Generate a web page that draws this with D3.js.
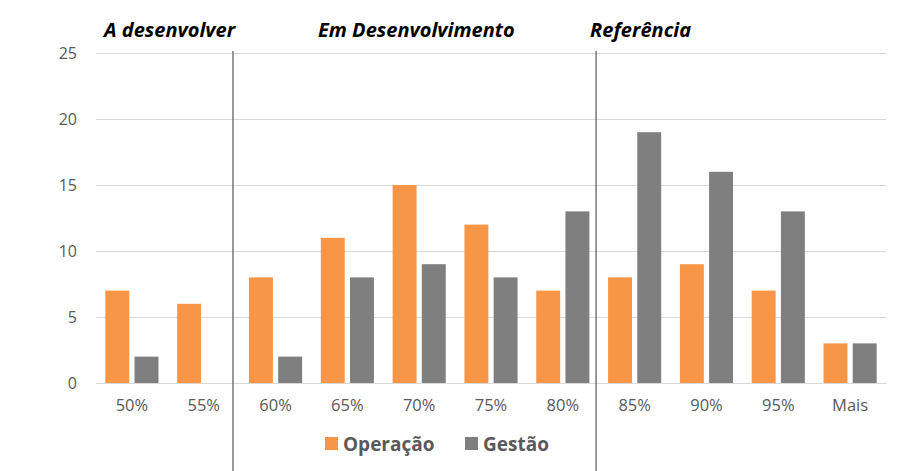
<!DOCTYPE html>
<html><head><meta charset="utf-8">
<script src="https://cdn.jsdelivr.net/npm/d3@7"></script>
<style>body{margin:0;background:#fff}</style>
</head><body>
<script>
const categories = ["50%","55%","60%","65%","70%","75%","80%","85%","90%","95%","Mais"];
const operacao = [7,6,8,11,15,12,7,8,9,7,3];
const gestao = [2,0,2,8,9,8,13,19,16,13,3];
const seriesNames = ["Operação","Gestão"];
const seriesColors = ["#F79646","#7F7F7F"];
const yTicks = [0,5,10,15,20,25];
const regions = [
  {label:"A desenvolver", start:"50%"},
  {label:"Em Desenvolvimento", start:"60%"},
  {label:"Referência", start:"85%"}
];

const W=912,H=471;
const m={l:96,r:26,t:53,b:88};
const svg=d3.select("body").append("svg").attr("width",W).attr("height",H);
const font="Open Sans, Liberation Sans, sans-serif";

const x=d3.scaleBand().domain(categories).range([m.l,W-m.r]).paddingInner(0.26).paddingOuter(0.13);
const xs=d3.scaleBand().domain(seriesNames).range([0,x.bandwidth()]).paddingInner(0.18);
const y=d3.scaleLinear().domain([0,25]).range([H-m.b,m.t]);

// gridlines
const yAxis=d3.axisLeft(y).tickValues(yTicks).tickSize(-(W-m.l-m.r)).tickPadding(19);
const ga=svg.append("g").attr("transform",`translate(${m.l},0)`).call(yAxis);
ga.select(".domain").remove();
ga.selectAll(".tick line").attr("stroke","#D9D9D9").attr("stroke-width",1);
ga.selectAll(".tick text").attr("fill","#595959").style("font-family",font).style("font-size","16px");

// bars
const data=[operacao,gestao];
data.forEach((vals,si)=>{
  svg.append("g").selectAll("rect").data(vals.map((v,i)=>({c:categories[i],v}))).join("rect")
    .filter(d=>d.v>0)
    .attr("x",d=>x(d.c)+xs(seriesNames[si]))
    .attr("width",xs.bandwidth())
    .attr("y",d=>y(d.v))
    .attr("height",d=>y(0)-y(d.v))
    .attr("fill",seriesColors[si]);
});

// x axis labels
const xAxis=d3.axisBottom(x).tickSize(0).tickPadding(16);
const gx=svg.append("g").attr("transform",`translate(0,${y(0)})`).call(xAxis);
gx.select(".domain").attr("stroke","#D9D9D9");
gx.selectAll(".tick text").attr("fill","#595959").style("font-family",font).style("font-size","16.5px");

// region separators and labels
const sepOffset=[0,-16,-12];
const labelOffset=[-88,85,-6];
regions.forEach((r,i)=>{
  const bx=x(r.start)+sepOffset[i];
  if(i>0){
    svg.append("line").attr("x1",bx).attr("x2",bx).attr("y1",m.t-2).attr("y2",H)
      .attr("stroke","#595959").attr("stroke-width",1.2);
  }
  const lx = i===0 ? 104 : bx+labelOffset[i];
  svg.append("text").attr("x",lx).attr("y",37)
    .text(r.label).attr("fill","#000").style("font-family",font)
    .style("font-size","20px").style("font-weight","bold").style("font-style","italic");
});

// legend
const lg=svg.append("g").attr("transform","translate(325,444)");
let lx=0;
seriesNames.forEach((n,i)=>{
  const g=lg.append("g").attr("transform",`translate(${lx},0)`);
  g.append("rect").attr("x",0).attr("y",-7).attr("width",13).attr("height",13).attr("fill",seriesColors[i]);
  g.append("text").attr("x",18).attr("y",6.5).text(n).attr("fill","#595959")
    .style("font-family",font).style("font-size","19px").style("font-weight","bold");
  lx+=140;
});
</script>
</body></html>
